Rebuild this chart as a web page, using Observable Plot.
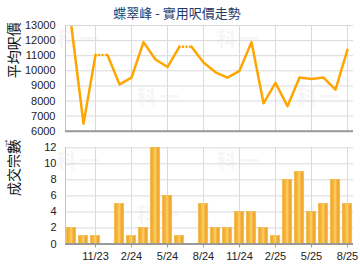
<!DOCTYPE html>
<html>
<head>
<meta charset="utf-8">
<script src="https://cdn.jsdelivr.net/npm/d3@7"></script>
<script src="https://cdn.jsdelivr.net/npm/@observablehq/plot@0.6"></script>
<style>
  body { margin: 0; background: #fff; }
  #wrap { position: relative; width: 360px; height: 270px; overflow: hidden; font-family: "Liberation Sans", Arial, sans-serif; }
  #title { position: absolute; left: 0; top: 5px; width: 354px; text-align: center; font-family: "Noto Sans CJK TC", sans-serif; font-size: 13px; line-height: 16px; color: #1d3b6b; }
  .chart { position: absolute; left: 0; }
  .wm { position: absolute; font-family: "Noto Sans CJK TC", sans-serif; font-weight: bold; font-size: 19px; color: #f6f6f6; letter-spacing: 4px; }
</style>
</head>
<body>
<div id="wrap">
  <div class="wm" style="left:57px;top:24px">科一</div>
  <div class="wm" style="left:137px;top:82px">科一</div>
  <div class="wm" style="left:217px;top:24px">科一</div>
  <div class="wm" style="left:297px;top:82px">科一</div>
  <div class="wm" style="left:57px;top:146px">科一</div>
  <div class="wm" style="left:137px;top:200px">科一</div>
  <div class="wm" style="left:217px;top:146px">科一</div>
  <div class="wm" style="left:297px;top:200px">科一</div>
  <div id="title">蝶翠峰 - 實用呎價走勢</div>
  <div id="topChart" class="chart" style="top:0"></div>
  <div id="bottomChart" class="chart" style="top:135px"></div>
</div>
<script>
const months = ["9/23","10/23","11/23","12/23","1/24","2/24","3/24","4/24","5/24","6/24","7/24","8/24",
                "9/24","10/24","11/24","12/24","1/25","2/25","3/25","4/25","5/25","6/25","7/25","8/25"];
const price = [12900, 6500, 11050, null, 9100, 9550, 11900, 10750, 10250, 11600, null, 10550,
               9900, 9550, 10000, 11900, 7850, 9200, 7650, 9550, 9450, 9550, 8750, 11400];
const counts = [2, 1, 1, 0, 5, 1, 2, 12, 6, 1, 0, 5, 2, 2, 4, 4, 2, 1, 8, 9, 4, 5, 8, 5];
const tickMonths = ["11/23","2/24","5/24","8/24","11/24","2/25","5/25","8/25"];
const priceTicks = [6000, 7000, 8000, 9000, 10000, 11000, 12000, 13000];
const countTicks = [0, 2, 4, 6, 8, 10, 12];
const priceLabel = "平均呎價";
const countLabel = "成交宗數";

const xDomain = [-0.5, months.length - 0.5];
const tickIdx = tickMonths.map(m => months.indexOf(m));
const lineColor = "#FFA500";
const gridColor = "#dadada";

// carry forward months without transactions (drawn dotted)
const solidRows = [];
const dotRows = [];
let grp = 0, last = null;
price.forEach((v, i) => {
  if (v == null) {
    grp++;
    dotRows.push({x1: i - 1, y1: last, x2: i, y2: last});
    solidRows.push({i, v: last, g: grp});
  } else {
    solidRows.push({i, v, g: grp});
    last = v;
  }
});
const barRows = counts.map((c, i) => ({i, c})).filter(d => d.c > 0);

const common = {
  width: 360, height: 135, marginLeft: 65, marginRight: 7,
  style: {background: "transparent", fontFamily: "'Liberation Sans', Arial, sans-serif", fontSize: "11px", color: "#222", overflow: "visible"}
};

const topPlot = Plot.plot({
  ...common,
  marginTop: 25, marginBottom: 4.3,
  x: {domain: xDomain, axis: null},
  y: {domain: [priceTicks[0], priceTicks[priceTicks.length - 1]], axis: null},
  marks: [
    Plot.gridY(priceTicks, {stroke: gridColor, strokeOpacity: 1}),
    Plot.gridX(tickIdx, {stroke: gridColor, strokeOpacity: 1}),
    Plot.ruleX([xDomain[0]], {stroke: "#c4c4c4"}),
    Plot.ruleY([priceTicks[0]], {stroke: "#999", strokeWidth: 2}),
    Plot.axisY(priceTicks, {tickSize: 0, tickPadding: 10, tickFormat: d => String(d), fill: "#222", fontSize: 11}),
    Plot.line(solidRows, {x: "i", y: "v", z: "g", stroke: lineColor, strokeWidth: 2.5, strokeLinejoin: "round"}),
    Plot.link(dotRows, {x1: "x1", y1: "y1", x2: "x2", y2: "y2", stroke: lineColor, strokeWidth: 2.5, strokeLinecap: "round", strokeDasharray: "0.1,3.4"}),
    Plot.text([priceLabel], {frameAnchor: "left", dx: -51, rotate: -90, fontSize: 14, fontFamily: "'Noto Sans CJK TC', sans-serif", fill: "#111"})
  ]
});

const bottomPlot = Plot.plot({
  ...common,
  marginTop: 12.3, marginBottom: 26.5,
  x: {domain: xDomain, axis: null},
  y: {domain: [countTicks[0], countTicks[countTicks.length - 1]], axis: null},
  marks: [
    () => {
      const ns = "http://www.w3.org/2000/svg";
      const defs = document.createElementNS(ns, "defs");
      const lg = document.createElementNS(ns, "linearGradient");
      lg.setAttribute("id", "barGrad");
      lg.setAttribute("x1", "0"); lg.setAttribute("x2", "1"); lg.setAttribute("y1", "0"); lg.setAttribute("y2", "0");
      [[0, "#F8C862"], [0.15, "#F0A726"], [0.35, "#F7BB45"], [0.55, "#FBCB66"], [0.8, "#EEA223"], [1, "#F6BE55"]].forEach(([o, c]) => {
        const s = document.createElementNS(ns, "stop");
        s.setAttribute("offset", o); s.setAttribute("stop-color", c);
        lg.appendChild(s);
      });
      defs.appendChild(lg);
      return defs;
    },
    Plot.gridY(countTicks, {stroke: gridColor, strokeOpacity: 1}),
    Plot.gridX(tickIdx, {stroke: gridColor, strokeOpacity: 1}),
    Plot.rectY(barRows, {x1: d => d.i - 0.4, x2: d => d.i + 0.4, y: "c", fill: "url(#barGrad)", stroke: "#F2AE35", strokeWidth: 0.5}),
    Plot.ruleX([xDomain[0]], {stroke: "#c4c4c4"}),
    Plot.ruleY([countTicks[0]], {stroke: "#999", strokeWidth: 2}),
    Plot.axisY(countTicks, {tickSize: 0, tickPadding: 9, fill: "#222", fontSize: 11}),
    Plot.axisX(tickIdx, {tickSize: 4, tickPadding: 4.5, stroke: "#999", tickFormat: i => months[i], fill: "#222", fontSize: 11}),
    Plot.text([countLabel], {frameAnchor: "left", dx: -51, rotate: -90, fontSize: 14, fontFamily: "'Noto Sans CJK TC', sans-serif", fill: "#111"})
  ]
});

document.getElementById("topChart").appendChild(topPlot);
document.getElementById("bottomChart").appendChild(bottomPlot);
</script>
</body>
</html>
